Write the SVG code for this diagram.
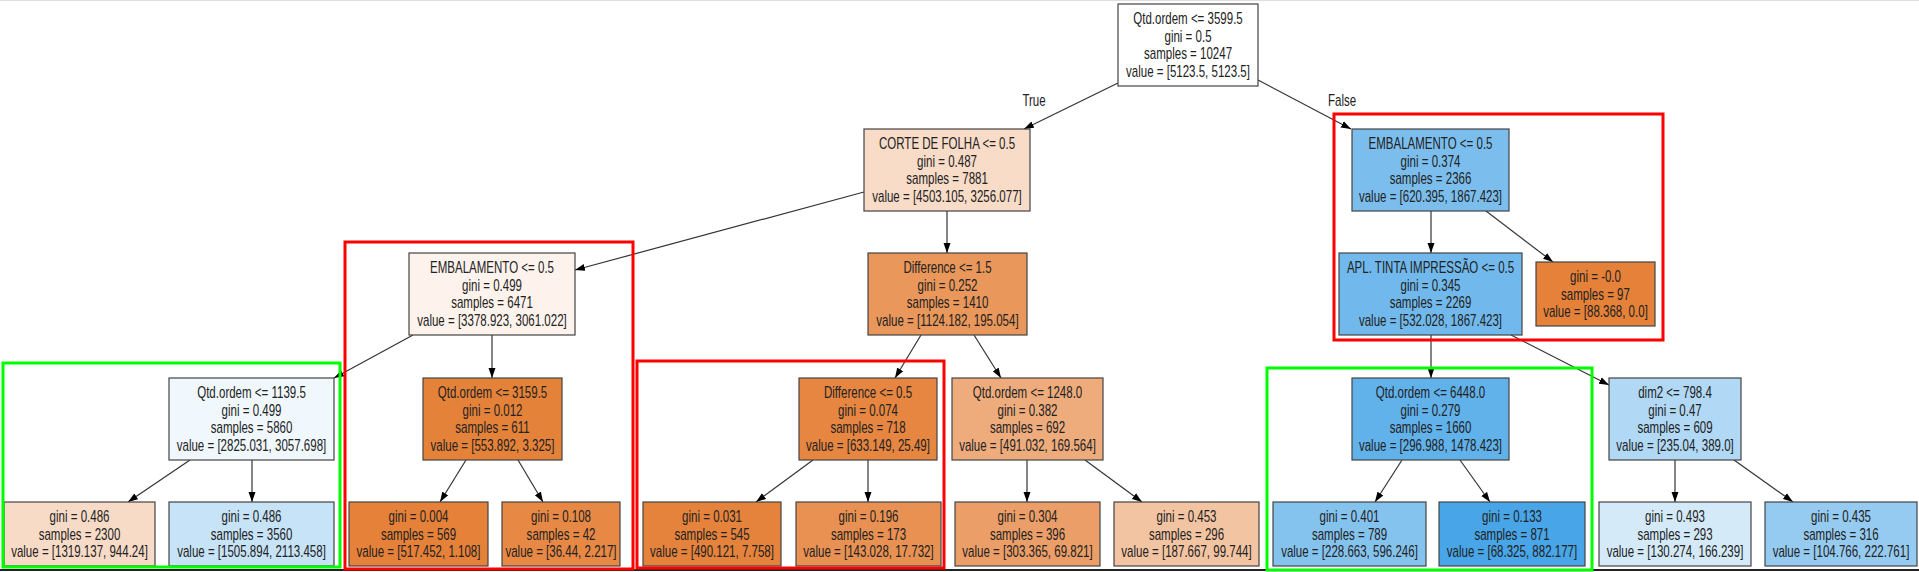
<svg xmlns="http://www.w3.org/2000/svg" width="1919" height="572" viewBox="0 0 1919 572">
<style>
.n rect{stroke:#444;stroke-width:1.2}
text{font-family:"Liberation Sans",Arial,sans-serif;font-size:16px;fill:#222;text-anchor:middle;transform-box:fill-box;transform-origin:center;transform:scaleX(0.72)}
.e line{stroke:#333;stroke-width:1.2;marker-end:url(#ah)}
.red{fill:none;stroke:#ff0000;stroke-width:3}
.grn{fill:none;stroke:#00ff00;stroke-width:3}
</style>
<defs>
<marker id="ah" markerUnits="userSpaceOnUse" markerWidth="10" markerHeight="8" refX="10" refY="4" orient="auto"><path d="M0,0.5 L10,4 L0,7.5 z" fill="#000"/></marker>
</defs>
<rect width="1919" height="572" fill="#fff"/>
<line x1="0" y1="0.5" x2="1919" y2="0.5" stroke="#ddd"/>
<line x1="0" y1="570" x2="1919" y2="570" stroke="#222" stroke-width="2"/>

<g id="connectors" class="e">
<line x1="1118" y1="83" x2="1024" y2="129"/>
<line x1="1258" y1="80" x2="1351" y2="129"/>
<line x1="864" y1="192" x2="575" y2="270"/>
<line x1="947" y1="211" x2="947" y2="253"/>
<line x1="413" y1="335" x2="334" y2="378"/>
<line x1="492" y1="335" x2="492" y2="378"/>
<line x1="190" y1="460" x2="128" y2="502"/>
<line x1="252" y1="460" x2="252" y2="502"/>
<line x1="466" y1="460" x2="440" y2="502"/>
<line x1="518" y1="460" x2="543" y2="502"/>
<line x1="921" y1="335" x2="895" y2="378"/>
<line x1="974" y1="335" x2="1001" y2="378"/>
<line x1="813" y1="460" x2="756" y2="502"/>
<line x1="868" y1="460" x2="868" y2="502"/>
<line x1="1027" y1="460" x2="1027" y2="502"/>
<line x1="1085" y1="460" x2="1142" y2="502"/>
<line x1="1431" y1="211" x2="1431" y2="253"/>
<line x1="1486" y1="211" x2="1553" y2="262"/>
<line x1="1431" y1="335" x2="1431" y2="378"/>
<line x1="1511" y1="335" x2="1609" y2="385"/>
<line x1="1402" y1="460" x2="1375" y2="502"/>
<line x1="1460" y1="460" x2="1490" y2="502"/>
<line x1="1675" y1="460" x2="1675" y2="502"/>
<line x1="1734" y1="460" x2="1793" y2="502"/>
</g>
<text x="1034" y="106">True</text>
<text x="1342" y="106">False</text>

<g id="n0" class="n"><rect x="1118" y="4" width="140" height="82" fill="#ffffff"/>
<text x="1188" y="24.5">Qtd.ordem &lt;= 3599.5</text><text x="1188" y="42">gini = 0.5</text><text x="1188" y="59.5">samples = 10247</text><text x="1188" y="77">value = [5123.5, 5123.5]</text></g>

<g id="n1" class="n"><rect x="864" y="129" width="166" height="82" fill="#f8dcc8"/>
<text x="947" y="149.5">CORTE DE FOLHA &lt;= 0.5</text><text x="947" y="167">gini = 0.487</text><text x="947" y="184.5">samples = 7881</text><text x="947" y="202">value = [4503.105, 3256.077]</text></g>

<g id="n2" class="n"><rect x="409" y="253" width="166" height="82" fill="#fdf3ec"/>
<text x="492" y="273.5">EMBALAMENTO &lt;= 0.5</text><text x="492" y="291">gini = 0.499</text><text x="492" y="308.5">samples = 6471</text><text x="492" y="326">value = [3378.923, 3061.022]</text></g>

<g id="n3" class="n"><rect x="169" y="378" width="165" height="82" fill="#f0f8fd"/>
<text x="251.5" y="398.5">Qtd.ordem &lt;= 1139.5</text><text x="251.5" y="416">gini = 0.499</text><text x="251.5" y="433.5">samples = 5860</text><text x="251.5" y="451">value = [2825.031, 3057.698]</text></g>

<g id="n4" class="n"><rect x="4" y="502" width="151" height="64" fill="#f8dbc7"/>
<text x="79.5" y="522.5">gini = 0.486</text><text x="79.5" y="540">samples = 2300</text><text x="79.5" y="557.5">value = [1319.137, 944.24]</text></g>

<g id="n5" class="n"><rect x="169" y="502" width="165" height="64" fill="#c6e3f8"/>
<text x="251.5" y="522.5">gini = 0.486</text><text x="251.5" y="540">samples = 3560</text><text x="251.5" y="557.5">value = [1505.894, 2113.458]</text></g>

<g id="n6" class="n"><rect x="423" y="378" width="139" height="82" fill="#e5823a"/>
<text x="492.5" y="398.5">Qtd.ordem &lt;= 3159.5</text><text x="492.5" y="416">gini = 0.012</text><text x="492.5" y="433.5">samples = 611</text><text x="492.5" y="451">value = [553.892, 3.325]</text></g>

<g id="n7" class="n"><rect x="349" y="502" width="139" height="64" fill="#e58139"/>
<text x="418.5" y="522.5">gini = 0.004</text><text x="418.5" y="540">samples = 569</text><text x="418.5" y="557.5">value = [517.452, 1.108]</text></g>

<g id="n8" class="n"><rect x="502" y="502" width="118" height="64" fill="#e78945"/>
<text x="561" y="522.5">gini = 0.108</text><text x="561" y="540">samples = 42</text><text x="561" y="557.5">value = [36.44, 2.217]</text></g>

<g id="n9" class="n"><rect x="868" y="253" width="159" height="82" fill="#e9975b"/>
<text x="947.5" y="273.5">Difference &lt;= 1.5</text><text x="947.5" y="291">gini = 0.252</text><text x="947.5" y="308.5">samples = 1410</text><text x="947.5" y="326">value = [1124.182, 195.054]</text></g>

<g id="n10" class="n"><rect x="799" y="378" width="138" height="82" fill="#e68641"/>
<text x="868" y="398.5">Difference &lt;= 0.5</text><text x="868" y="416">gini = 0.074</text><text x="868" y="433.5">samples = 718</text><text x="868" y="451">value = [633.149, 25.49]</text></g>

<g id="n11" class="n"><rect x="643" y="502" width="138" height="64" fill="#e5833c"/>
<text x="712" y="522.5">gini = 0.031</text><text x="712" y="540">samples = 545</text><text x="712" y="557.5">value = [490.121, 7.758]</text></g>

<g id="n12" class="n"><rect x="796" y="502" width="145" height="64" fill="#e89152"/>
<text x="868.5" y="522.5">gini = 0.196</text><text x="868.5" y="540">samples = 173</text><text x="868.5" y="557.5">value = [143.028, 17.732]</text></g>

<g id="n13" class="n"><rect x="952" y="378" width="151" height="82" fill="#eeac7d"/>
<text x="1027.5" y="398.5">Qtd.ordem &lt;= 1248.0</text><text x="1027.5" y="416">gini = 0.382</text><text x="1027.5" y="433.5">samples = 692</text><text x="1027.5" y="451">value = [491.032, 169.564]</text></g>

<g id="n14" class="n"><rect x="955" y="502" width="145" height="64" fill="#eb9e67"/>
<text x="1027.5" y="522.5">gini = 0.304</text><text x="1027.5" y="540">samples = 396</text><text x="1027.5" y="557.5">value = [303.365, 69.821]</text></g>

<g id="n15" class="n"><rect x="1114" y="502" width="145" height="64" fill="#f3c4a2"/>
<text x="1186.5" y="522.5">gini = 0.453</text><text x="1186.5" y="540">samples = 296</text><text x="1186.5" y="557.5">value = [187.667, 99.744]</text></g>

<g id="n16" class="n"><rect x="1352" y="129" width="157" height="82" fill="#7bbeee"/>
<text x="1430.5" y="149.5">EMBALAMENTO &lt;= 0.5</text><text x="1430.5" y="167">gini = 0.374</text><text x="1430.5" y="184.5">samples = 2366</text><text x="1430.5" y="202">value = [620.395, 1867.423]</text></g>

<g id="n17" class="n"><rect x="1339" y="253" width="183" height="82" fill="#71b9ec"/>
<text x="1430.5" y="273.5">APL. TINTA IMPRESSÃO &lt;= 0.5</text><text x="1430.5" y="291">gini = 0.345</text><text x="1430.5" y="308.5">samples = 2269</text><text x="1430.5" y="326">value = [532.028, 1867.423]</text></g>

<g id="n18" class="n"><rect x="1536" y="262" width="119" height="64" fill="#e58139"/>
<text x="1595.5" y="282.5">gini = -0.0</text><text x="1595.5" y="300">samples = 97</text><text x="1595.5" y="317.5">value = [88.368, 0.0]</text></g>

<g id="n19" class="n"><rect x="1352" y="378" width="157" height="82" fill="#61b1ea"/>
<text x="1430.5" y="398.5">Qtd.ordem &lt;= 6448.0</text><text x="1430.5" y="416">gini = 0.279</text><text x="1430.5" y="433.5">samples = 1660</text><text x="1430.5" y="451">value = [296.988, 1478.423]</text></g>

<g id="n20" class="n"><rect x="1273" y="502" width="153" height="64" fill="#85c3ef"/>
<text x="1349.5" y="522.5">gini = 0.401</text><text x="1349.5" y="540">samples = 789</text><text x="1349.5" y="557.5">value = [228.663, 596.246]</text></g>

<g id="n21" class="n"><rect x="1439" y="502" width="146" height="64" fill="#48a5e7"/>
<text x="1512" y="522.5">gini = 0.133</text><text x="1512" y="540">samples = 871</text><text x="1512" y="557.5">value = [68.325, 882.177]</text></g>

<g id="n22" class="n"><rect x="1609" y="378" width="132" height="82" fill="#b1d8f5"/>
<text x="1675" y="398.5">dim2 &lt;= 798.4</text><text x="1675" y="416">gini = 0.47</text><text x="1675" y="433.5">samples = 609</text><text x="1675" y="451">value = [235.04, 389.0]</text></g>

<g id="n23" class="n"><rect x="1599" y="502" width="152" height="64" fill="#d4eaf9"/>
<text x="1675" y="522.5">gini = 0.493</text><text x="1675" y="540">samples = 293</text><text x="1675" y="557.5">value = [130.274, 166.239]</text></g>

<g id="n24" class="n"><rect x="1765" y="502" width="152" height="64" fill="#96cbf1"/>
<text x="1841" y="522.5">gini = 0.435</text><text x="1841" y="540">samples = 316</text><text x="1841" y="557.5">value = [104.766, 222.761]</text></g>

<g id="highlights">
<rect class="red" x="345" y="242" width="288" height="327"/>
<rect class="red" x="637" y="361" width="307" height="207"/>
<rect class="red" x="1334" y="114" width="329" height="226"/>
<rect class="grn" x="3" y="363" width="337" height="204"/>
<rect class="grn" x="1267" y="368" width="325" height="202"/>
</g>
</svg>
